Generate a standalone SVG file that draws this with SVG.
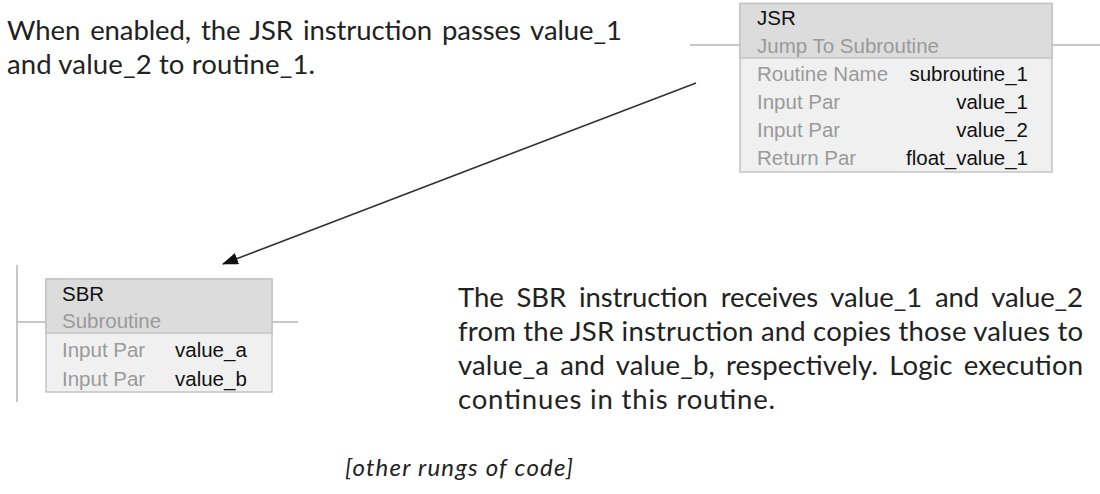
<svg xmlns="http://www.w3.org/2000/svg" width="1100" height="494" viewBox="0 0 1100 494">
<defs>
<style>
.note{font-family:Lato,"Open Sans","Liberation Sans",sans-serif;font-size:27.5px;fill:#222}
.ital{font-family:Lato,"Open Sans","Liberation Sans",sans-serif;font-size:24px;font-style:italic;fill:#222}
.box{font-family:"Liberation Sans",Arial,sans-serif;font-size:20.5px}
.hdr{fill:#dcdcdc;stroke:#c4c4c4;stroke-width:1.5}
.body{fill:#f0f0f0;stroke:#c4c4c4;stroke-width:1.5}
.rung{stroke:#b4b4b4;stroke-width:1.5;fill:none}
.name{fill:#111}
.lbl{fill:#9a9a9a}
.val{fill:#111}
</style>
<marker id="arr" viewBox="0 0 16 12" refX="15" refY="6" markerWidth="16" markerHeight="12" markerUnits="userSpaceOnUse" orient="auto">
<path d="M0,0 L16,6 L0,12 Z" fill="#111"/>
</marker>
</defs>
<rect width="1100" height="494" fill="#ffffff"/>

<g id="note-jsr">
<text class="note" x="7" y="40" textLength="615" lengthAdjust="spacing" word-spacing="3">When enabled, the JSR instruction passes value_1</text>
<text class="note" x="7" y="74" textLength="308" lengthAdjust="spacing">and value_2 to routine_1.</text>
</g>

<g id="jsr">
<line class="rung" x1="690" y1="45" x2="740" y2="45"/>
<line class="rung" x1="1052" y1="45" x2="1100" y2="45"/>
<rect class="body" x="740" y="3.5" width="312" height="168.5"/>
<rect class="hdr" x="740" y="3.5" width="312" height="54.5"/>
<text class="box name" x="757" y="25">JSR</text>
<text class="box lbl" x="757" y="53">Jump To Subroutine</text>
<text class="box lbl" x="757" y="81">Routine Name</text>
<text class="box val" x="1028" y="81" text-anchor="end">subroutine_1</text>
<text class="box lbl" x="757" y="109">Input Par</text>
<text class="box val" x="1028" y="109" text-anchor="end">value_1</text>
<text class="box lbl" x="757" y="137">Input Par</text>
<text class="box val" x="1028" y="137" text-anchor="end">value_2</text>
<text class="box lbl" x="757" y="165">Return Par</text>
<text class="box val" x="1028" y="165" text-anchor="end">float_value_1</text>
</g>

<g id="connectors">
<line x1="696" y1="83" x2="223" y2="264" stroke="#333" stroke-width="1.6" marker-end="url(#arr)"/>
</g>

<g id="sbr">
<line class="rung" x1="17" y1="265" x2="17" y2="402"/>
<line class="rung" x1="17" y1="322" x2="46" y2="322"/>
<line class="rung" x1="272" y1="322" x2="298" y2="322"/>
<rect class="body" x="46" y="279" width="226" height="113"/>
<rect class="hdr" x="46" y="279" width="226" height="54"/>
<text class="box name" x="62" y="301">SBR</text>
<text class="box lbl" x="62" y="328">Subroutine</text>
<text class="box lbl" x="62" y="357">Input Par</text>
<text class="box val" x="175" y="357">value_a</text>
<text class="box lbl" x="62" y="386">Input Par</text>
<text class="box val" x="175" y="386">value_b</text>
</g>

<g id="note-sbr">
<text class="note" x="458" y="307" textLength="625" lengthAdjust="spacing" word-spacing="6">The SBR instruction receives value_1 and value_2</text>
<text class="note" x="458" y="341" textLength="625" lengthAdjust="spacing">from the JSR instruction and copies those values to</text>
<text class="note" x="458" y="375" textLength="625" lengthAdjust="spacing" word-spacing="4">value_a and value_b, respectively. Logic execution</text>
<text class="note" x="458" y="409" textLength="317" lengthAdjust="spacing">continues in this routine.</text>
</g>

<g id="other-rungs">
<text class="ital" x="345" y="476" textLength="228" lengthAdjust="spacing">[other rungs of code]</text>
</g>
</svg>
